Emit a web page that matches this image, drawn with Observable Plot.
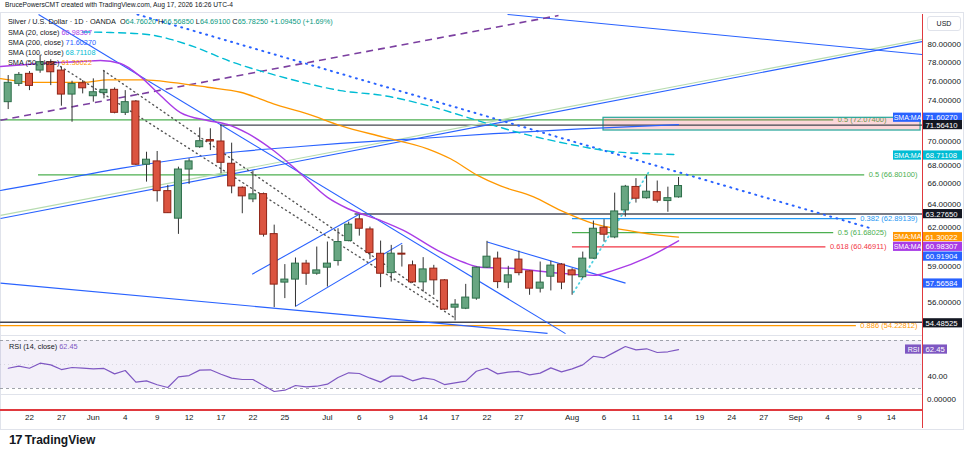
<!DOCTYPE html>
<html><head><meta charset="utf-8">
<script src="https://cdn.jsdelivr.net/npm/d3@7"></script>
<script src="https://cdn.jsdelivr.net/npm/@observablehq/plot@0.6"></script>
<style>
body{margin:0;background:#fff;}
#wrap{position:relative;width:964px;height:458px;overflow:hidden;font-family:"Liberation Sans",Arial,sans-serif;color:#131722;background:#fff;}
#wrap svg{position:absolute;left:0;top:0;}
.t{position:absolute;white-space:nowrap;font-size:7.3px;line-height:1;}
.g{color:#089981;}
.ln{position:absolute;}
</style></head><body><div id="wrap"></div>
<script>
// ---------------- data ----------------
// daily bars, index 0 = May 20, 2026 ... index 63 = Aug 17, 2026
const opens  = [73.87,75.76,76.82,77.17,78.07,77.17,74.65,75.83,74.48,74.80,75.14,72.79,73.94,67.75,68.06,65.32,62.88,67.30,69.41,70.10,69.96,67.84,65.63,64.58,65.05,61.55,57.56,57.80,59.09,58.27,58.76,59.30,60.96,62.82,61.95,59.90,58.32,59.91,58.95,57.58,58.68,57.74,55.60,55.52,56.30,58.76,59.50,57.56,59.42,58.46,57.08,58.03,59.01,58.54,57.99,59.50,62.10,61.27,63.60,65.70,64.68,65.23,64.43,64.7602];
const highs  = [76.64,76.96,77.06,78.79,78.33,77.53,76.04,76.11,76.29,77.10,75.34,75.06,74.04,68.93,69.00,65.84,67.52,68.31,71.29,71.20,71.5641,69.80,65.70,67.15,65.15,62.32,59.01,59.55,59.36,60.46,60.88,62.01,62.58,63.20,62.15,60.96,60.60,60.60,59.30,59.58,58.95,57.80,56.22,57.42,58.80,60.94,60.04,58.87,60.12,58.50,59.22,59.28,59.09,58.68,60.04,62.67,62.79,65.14,65.84,66.46,66.76,66.24,65.68,66.5685];
const lows   = [73.12,75.48,75.06,76.88,75.58,73.46,71.85,74.72,73.87,74.21,72.69,72.52,67.68,66.14,64.34,63.33,61.53,65.93,69.30,69.09,66.91,65.08,63.31,64.29,61.30,55.60,56.30,55.65,57.34,58.15,57.21,58.89,60.90,61.38,59.42,57.16,57.60,58.81,57.50,56.81,56.56,55.40,54.60,55.45,56.17,58.70,57.08,57.08,58.10,56.56,56.74,56.90,57.00,56.56,57.87,59.45,60.88,61.16,63.02,64.25,64.60,64.25,63.44,64.691];
const closes = [75.87,76.71,75.55,78.07,76.99,74.65,75.76,75.30,74.89,75.14,72.79,73.87,67.75,68.22,65.32,63.36,67.30,68.06,69.99,69.96,67.93,65.75,64.85,65.03,61.50,57.40,57.80,59.09,58.27,58.54,59.09,60.88,62.36,62.01,59.96,58.27,59.91,59.83,57.58,58.62,57.74,55.45,55.83,56.38,58.76,59.66,57.60,58.14,58.32,57.08,57.56,58.93,57.56,58.14,59.50,62.01,61.50,63.51,65.72,64.64,65.27,64.46,64.688,65.7825];
const rsi14  = [46.9,48.6,46.9,51.1,49.7,45.8,47.5,46.9,46.4,46.7,42.2,45.0,35.3,36.4,33.1,30.8,39.7,40.8,45.3,45.6,41.9,38.6,37.5,37.5,32.5,27.5,28.6,32.5,31.4,31.9,33.6,39.2,43.1,42.5,38.6,35.3,40.3,40.3,36.4,38.9,37.5,33.3,34.7,36.1,44.4,46.9,42.2,43.6,44.2,41.4,42.8,47.2,43.9,46.4,49.7,56.9,55.6,60.3,65.0,62.2,63.1,60.0,60.6,62.45];

// moving averages read as [bar index, price]
const sma20  = [[-0.72,77.60],[3.04,77.93],[6.8,78.14],[8.67,78.25],[10.55,77.93],[12.43,76.53],[14.31,74.55],[16.19,72.81],[18.73,72.02],[20.61,71.62],[22.5,70.74],[24.93,69.09],[27.47,66.94],[30.01,64.76],[31.89,63.77],[34.99,62.73],[37.15,61.87],[40.35,60.18],[42.79,59.20],[44.39,58.79],[47.21,58.71],[51.91,58.31],[55.01,58.14],[56.89,58.54],[60.09,59.60],[63,60.98307]];
const sma50  = [[-0.72,76.32],[2.38,75.93],[7.08,75.93],[9.33,76.18],[12.72,76.18],[15.54,75.90],[18.73,75.41],[21.83,74.89],[24.93,73.70],[28.13,72.69],[31.23,71.52],[35.27,70.38],[39.41,69.26],[41.57,68.31],[44.11,66.76],[46.27,65.79],[49.38,64.80],[51.91,63.60],[55.01,62.45],[58.21,61.87],[61.3,61.44],[63,61.30022]];
const sma100 = [[7.0,81.40],[9.62,81.34],[13.09,81.12],[17.13,79.89],[21.17,78.03],[24.93,76.74],[27.75,75.90],[31.23,75.06],[35.27,74.55],[39.97,73.36],[44.11,72.02],[47.87,70.86],[52.57,69.74],[57.27,68.95],[63,68.71108]];
const sma200 = [[-0.72,65.38],[3.04,66.03],[10.55,67.40],[21.83,69.00],[27.47,69.48],[31.23,69.77],[38.75,70.25],[45.61,70.72],[53.79,71.19],[63,71.60270]];

// drawn trendlines [idx1, price1, idx2, price2]
const blueLines   = [[-0.72,62.90,85.93,80.33],[46.93,83.39,85.93,78.90],[2.85,83.39,52.38,53.64],[-0.72,57.52,50.69,53.66],[22.93,58.23,32.95,63.24],[27.0,55.70,37.03,60.79],[45.02,60.88,58.02,57.52]];
const greenLines  = [[-0.72,63.16,85.93,80.59]];
const purpleDash  = [[-0.72,72.05,51.72,83.27]];
const blueDotted  = [[12.15,83.39,81.33,61.98]];
const cyanDotted  = [[53.13,56.79,60.18,67.03]];
const blackDotted = [[4.92,77.60,42.04,54.79],[8.96,77.17,41.1,55.70]];

// fibonacci levels
const fibRatios = ["0.5","0.5","0.382","0.5","0.618","0.886"];
const fibPrices = [72.07400,66.80100,62.89139,61.68025,60.46911,54.22812];
const fibStart  = [-0.72,2.85,53.03,53.03,53.03,-0.72];
// horizontal rays
const rayPrices = [71.56410,63.27650,54.48525];
const rayStart  = [19.95,32.6,-0.72];
// zone box
const zoneIdx = [55.95,85.75];
const zonePrice = [71.03,72.29];

// price-scale badges
const badgeValues = [71.60270,71.56410,68.71108,63.27650,61.30022,60.98307,60.91904,57.56584,54.48525];
const badgeTags   = ["SMA:MA","","SMA:MA","","SMA:MA","SMA:MA","","",""];

// axes (72 is hidden behind the price badges in the reference)
const priceTicks = [80,78,76,74,70,68,66,64,62,59,56];
const rsiTicks = [40];
const tickIdx    = [2,5,8,11,14,17,20,23,26,30,33,36,39,42,45,48,53,56,59,62,65,68,71,74,77,80,83];
const tickLabels = ["22","27","Jun","4","9","12","17","22","25","Jul","6","9","14","17","22","27","Aug","6","11","14","19","24","27","Sep","4","9","14"];

// ---------------- layout & style ----------------
const W = 964, H = 458;
const frameRight = 922, paneTop = 14, paneBottom = 335, rsiBottom = 394;
const xDomain = [-0.7237, 85.93];
const yDomain = [53.50, 83.39];
const K = (paneBottom - paneTop) / Math.log(yDomain[1] / yDomain[0]);
const pxToIdx = px => xDomain[0] + px * (xDomain[1] - xDomain[0]) / frameRight;
const priceToPx = p => paneTop + K * Math.log(yDomain[1] / p);
const FONT = '"Liberation Sans", Arial, sans-serif';
const C = {up:"#68a682", upS:"#2c6e49", dn:"#db5440", dnS:"#8e2316", wick:"#333",
  s20:"#a93ce6", s50:"#ff9800", s100:"#00bcd4", s200:"#2962ff", blue:"#2962ff",
  green:"#4caf50", lightGreen:"#b7dcb0", purple:"#7b3fa0", cyan:"#4dd0e1", dark:"#131722", rsi:"#7e57c2"};
const fibColors = [C.green,C.green,"#2196f3",C.green,"#f23645","#ff9800"];
const rayColors = ["#434651","#787b86","#434651"];
const rayWidths = [1.3,2,1.6];
const badgeColors = [C.blue,C.dark,C.s100,C.dark,C.s50,C.s20,C.blue,C.blue,C.dark];
const badgeDy = [-7,0,1,0,0,6,15,1,1];

const ctx = document.createElement("canvas").getContext("2d");
ctx.font = "7.5px " + FONT;
const tw = s => ctx.measureText(s).width;

const candles = opens.map((o,i)=>({i,o,h:highs[i],l:lows[i],c:closes[i]}));
const ups = candles.filter(d=>d.c>=d.o), dns = candles.filter(d=>d.c<d.o);
const toPts = a => a.map(([i,p])=>({i,p}));
const toSeg = a => a.map(([a1,b1,a2,b2])=>({x1:a1,y1:b1,x2:a2,y2:b2}));
const badges = badgeValues.map((v,k)=>({v, tag:badgeTags[k], color:badgeColors[k], dy:badgeDy[k]}));
const tags = badges.filter(d=>d.tag);
const tagPx = tags.map(d=>priceToPx(d.v)+d.dy);
const badgePx = badges.map(d=>priceToPx(d.v)+d.dy);
const fibs = fibPrices.map((p,k)=>{
  const label = `${fibRatios[k]} (${p.toFixed(5)})`;
  const py = priceToPx(p);
  const shift = tagPx.some(t=>Math.abs(t-py) < 9) ? 31 : 0;   // keep label clear of a price-scale tag
  const endPx = frameRight - 5 - shift;
  return {p, label, color:fibColors[k], s:fibStart[k], dx:-5-shift, e:pxToIdx(endPx-tw(label)-4)};
});
// price labels: nudge a label that would sit under a badge just clear of it
const priceLabels = priceTicks.map(v=>{
  const py = priceToPx(v);
  let dy = 0;
  for (const b of badgePx) { const d = py - b; if (Math.abs(d) < 10) dy = (d >= 0 ? 10 : -10) - d; }
  return {v, dy};
});
const rays = rayPrices.map((p,k)=>({p, s:rayStart[k], color:rayColors[k], w:rayWidths[k]}));
const style = {background:"transparent", fontFamily:FONT, fontSize:"8px", color:C.dark, overflow:"visible"};
const linkOpts = (stroke, w, dash) => ({x1:"x1",y1:"y1",x2:"x2",y2:"y2",stroke, strokeWidth:w, strokeDasharray:dash, strokeLinecap: dash && dash.startsWith("1") ? "round" : "butt", clip:true});
const fibsShift = fibs.filter(d=>d.dx!==-5), fibsNorm = fibs.filter(d=>d.dx===-5);

const main = Plot.plot({
  width:W, height:H, marginTop:paneTop, marginBottom:H-paneBottom, marginLeft:0, marginRight:W-frameRight,
  x:{domain:xDomain, axis:null},
  y:{type:"log", domain:yDomain, axis:null},
  color:{type:"identity"},
  style,
  marks:[
    Plot.ruleY(fibs,{y:"p", x1:"s", x2:"e", stroke:"color", strokeWidth:1.3}),
    Plot.text(fibsNorm,{y:"p", text:"label", frameAnchor:"right", dx:-5, textAnchor:"end", fill:"color", fontSize:7.5}),
    Plot.text(fibsShift,{y:"p", text:"label", frameAnchor:"right", dx:-36, textAnchor:"end", fill:"color", fontSize:7.5}),
    Plot.rect([0],{x1:()=>zoneIdx[0], x2:()=>zoneIdx[1], y1:()=>zonePrice[0], y2:()=>zonePrice[1], fill:"#f23645", fillOpacity:0.2, stroke:"#26a69a", strokeWidth:1.2}),
    Plot.ruleY(rays,{y:"p", x1:"s", x2:()=>xDomain[1], stroke:"color", strokeWidth:"w"}),
    Plot.link(toSeg(greenLines), linkOpts(C.lightGreen,1.2)),
    Plot.link(toSeg(blueLines), linkOpts(C.blue,1.1)),
    Plot.link(toSeg(purpleDash), linkOpts(C.purple,1.6,"7,5")),
    Plot.link(toSeg(blueDotted), linkOpts(C.blue,2,"1,5.5")),
    Plot.link(toSeg(cyanDotted), linkOpts(C.cyan,1.8,"1,4")),
    Plot.link(toSeg(blackDotted), linkOpts("#555",1.4,"1,3.6")),
    Plot.line(toPts(sma200),{x:"i", y:"p", stroke:C.s200, strokeWidth:1.2, curve:"monotone-x", clip:true}),
    Plot.line(toPts(sma100),{x:"i", y:"p", stroke:C.s100, strokeWidth:1.4, strokeDasharray:"7,5", curve:"monotone-x", clip:true}),
    Plot.line(toPts(sma50),{x:"i", y:"p", stroke:C.s50, strokeWidth:1.3, curve:"monotone-x", clip:true}),
    Plot.line(toPts(sma20),{x:"i", y:"p", stroke:C.s20, strokeWidth:1.4, curve:"monotone-x", clip:true}),
    Plot.ruleX(candles,{x:"i", y1:"l", y2:"h", stroke:C.wick, strokeWidth:1}),
    Plot.rect(ups,{x1:d=>d.i-0.33, x2:d=>d.i+0.33, y1:"o", y2:"c", fill:C.up, stroke:C.upS, strokeWidth:1}),
    Plot.rect(dns,{x1:d=>d.i-0.33, x2:d=>d.i+0.33, y1:"c", y2:"o", fill:C.dn, stroke:C.dnS, strokeWidth:1}),
    // right price scale labels
    Plot.text(priceLabels,{y:d=>d.v*Math.exp(-d.dy/K), text:d=>d.v.toFixed(5), frameAnchor:"right", dx:5, textAnchor:"start", fill:C.dark, fontSize:8}),
    Plot.rect(badges,{x1:()=>xDomain[1], x2:()=>pxToIdx(W-2), y1:d=>d.v*Math.exp(-(d.dy-4.6)/K), y2:d=>d.v*Math.exp(-(d.dy+4.6)/K), fill:"color"}),
    Plot.text(badges,{y:d=>d.v*Math.exp(-d.dy/K), text:d=>d.v.toFixed(5), frameAnchor:"right", dx:3, textAnchor:"start", fill:"white", fontSize:7.7}),
    Plot.rect(tags,{x1:()=>pxToIdx(frameRight-29), x2:()=>pxToIdx(frameRight-1), y1:d=>d.v*Math.exp(-(d.dy-4.6)/K), y2:d=>d.v*Math.exp(-(d.dy+4.6)/K), fill:"color"}),
    Plot.text(tags,{y:d=>d.v*Math.exp(-d.dy/K), text:"tag", frameAnchor:"right", dx:-15, textAnchor:"middle", fill:"white", fontSize:7})
  ]
});

const rsiLast = rsi14[rsi14.length-1];
const rsiPlot = Plot.plot({
  width:W, height:H, marginTop:paneBottom, marginBottom:H-rsiBottom, marginLeft:0, marginRight:W-frameRight,
  x:{domain:xDomain},
  y:{domain:[25,74.17]},
  color:{type:"identity"},
  style,
  marks:[
    Plot.rect([0],{x1:()=>xDomain[0], x2:()=>xDomain[1], y1:()=>30, y2:()=>70, fill:C.rsi, fillOpacity:0.09}),
    Plot.ruleY([70,30],{stroke:"#9598a1", strokeWidth:0.9, strokeDasharray:"3,3"}),
    Plot.ruleY([50],{stroke:"#b2b5be", strokeWidth:0.7, strokeDasharray:"1,3", strokeOpacity:0.6}),
    Plot.line(rsi14.map((v,i)=>({i,v})),{x:"i", y:"v", stroke:C.rsi, strokeWidth:1.2}),
    Plot.axisY({anchor:"right", ticks:rsiTicks, tickFormat:d=>d.toFixed(2), tickSize:0, tickPadding:5, label:null, fontSize:8}),
    Plot.axisX({anchor:"bottom", ticks:tickIdx, tickFormat:d=>tickLabels[tickIdx.indexOf(d)], tickSize:0, tickPadding:20, label:null, fontSize:8}),
    Plot.rect([rsiLast],{x1:()=>xDomain[1], x2:()=>pxToIdx(W-17), y1:d=>d-4.6/1.2, y2:d=>d+4.6/1.2, fill:C.rsi}),
    Plot.text([rsiLast],{y:d=>d, text:d=>d.toFixed(2), frameAnchor:"right", dx:3, textAnchor:"start", fill:"white", fontSize:7.7}),
    Plot.rect([rsiLast],{x1:()=>pxToIdx(frameRight-17), x2:()=>pxToIdx(frameRight-1), y1:d=>d-4.6/1.2, y2:d=>d+4.6/1.2, fill:C.rsi}),
    Plot.text([rsiLast],{y:d=>d, text:()=>"RSI", frameAnchor:"right", dx:-9, textAnchor:"middle", fill:"white", fontSize:7})
  ]
});

const wrap = document.getElementById("wrap");
function div(html, css, cls="t"){ const d=document.createElement("div"); d.className=cls; d.style.cssText=css; d.innerHTML=html; wrap.appendChild(d); return d; }
// frame & separators
div("", "left:0;top:12px;width:962px;height:416px;border:1px solid #e0e3eb;", "ln");
wrap.appendChild(rsiPlot);
wrap.appendChild(main);
div("", `left:0;top:${paneBottom}px;width:${frameRight}px;height:1px;background:#e0e3eb;`, "ln");
div("", `left:0;top:${rsiBottom}px;width:${frameRight}px;height:1px;background:#e0e3eb;`, "ln");
div("", `left:${frameRight}px;top:14px;width:1px;height:414px;background:#e0393e;`, "ln");
div("", `left:0;top:409px;width:${frameRight}px;height:1.5px;background:#e0393e;`, "ln");
// texts
const n = closes.length-1, prev = closes[n-1];
const chg = closes[n]-prev, pct = chg/prev*100;
div("BrucePowersCMT created with TradingView.com, Aug 17, 2026 16:26 UTC-4", "left:5px;top:2px;font-size:6.7px;");
div(`Silver / U.S. Dollar · 1D · OANDA&nbsp;&nbsp;O<span class="g">${opens[n].toFixed(5)}</span> H<span class="g">${highs[n].toFixed(5)}</span> L<span class="g">${lows[n].toFixed(5)}</span> C<span class="g">${closes[n].toFixed(5)}</span> <span class="g">+${chg.toFixed(5)} (+${pct.toFixed(2)}%)</span>`, "left:8px;top:17.5px;");
const last = a => a[a.length-1][1].toFixed(5);
div(`SMA (20, close) <span style="color:${C.s20}">${last(sma20)}</span>`, "left:8px;top:28.5px;");
div(`SMA (200, close) <span style="color:${C.s200}">${last(sma200)}</span>`, "left:8px;top:38.5px;");
div(`SMA (100, close) <span style="color:${C.s100}">${last(sma100)}</span>`, "left:8px;top:48.5px;");
div(`SMA (50, close) <span style="color:${C.s50}">${last(sma50)}</span>`, "left:8px;top:58.5px;");
div(`RSI (14, close) <span style="color:${C.rsi}">${rsiLast.toFixed(2)}</span>`, "left:9px;top:343px;");
div("USD", "left:927px;top:16px;width:32px;height:13px;line-height:13px;text-align:center;border:1px solid #e0e3eb;border-radius:3px;font-size:7px;");
div("0.00000", "left:927px;top:396px;font-size:8px;");
div('<span style="font-weight:900;letter-spacing:-1px;font-size:13px;">17</span> <span style="font-weight:700;">TradingView</span>', "left:9px;top:433px;font-size:12px;");
</script></body></html>
